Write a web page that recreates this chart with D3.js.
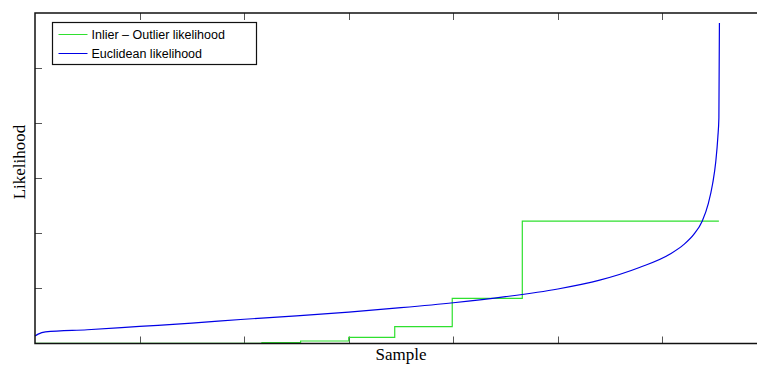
<!DOCTYPE html>
<html>
<head>
<meta charset="utf-8">
<script src="https://cdn.jsdelivr.net/npm/d3@7"></script>
<style>
  body { margin: 0; background: #fff; }
  svg { display: block; }
</style>
</head>
<body>
<svg id="chart" width="757" height="365"></svg>
<script>
// sample index (thousands) and likelihood
const euclidSample = [0, 0.03, 0.1, 0.5, 1.0, 1.5, 2.0, 2.5, 3.0, 3.5, 4.0, 4.5, 5.0, 5.4, 5.78, 6.07, 6.2, 6.3, 6.38, 6.44, 6.48, 6.51, 6.53, 6.54, 6.545]
const euclidValue = [0.136, 0.17, 0.21, 0.25, 0.31, 0.37, 0.44, 0.50, 0.57, 0.65, 0.74, 0.85, 0.99, 1.15, 1.38, 1.62, 1.79, 1.98, 2.22, 2.55, 2.9, 3.3, 3.75, 4.1, 5.82]

const inlierSample = [0, 2.17, 2.54, 3.0, 3.44, 3.99, 4.66, 6.54]
const inlierValue = [0.003, 0.015, 0.045, 0.11, 0.305, 0.82, 2.22, 2.22]

const xTicks = [1, 2, 3, 4, 5, 6]
const yTicks = [1, 2, 3, 4, 5]

const legendLabels = ['Inlier \u2013 Outlier likelihood', 'Euclidean likelihood']
const seriesColors = ['#2fe02f', '#0000e6']

const svg = d3.select('#chart')
const plot = { left: 35, right: 767, top: 13, bottom: 343.5 }

const x = d3.scaleLinear().domain([0, 7]).range([plot.left, plot.right])
const y = d3.scaleLinear().domain([0, 6]).range([plot.bottom, plot.top])

/**
 * Draws the inward tick marks on the bottom, top and left sides of the box.
 */
function drawTicks () {
  const tickLen = 7
  const g = svg.append('g').attr('stroke', '#555').attr('stroke-width', 1)
  xTicks.forEach((t) => {
    const px = Math.round(x(t)) + 0.5
    g.append('line').attr('x1', px).attr('x2', px)
      .attr('y1', plot.bottom).attr('y2', plot.bottom - tickLen)
    g.append('line').attr('x1', px).attr('x2', px)
      .attr('y1', plot.top).attr('y2', plot.top + tickLen)
  })
  yTicks.forEach((t) => {
    const py = Math.round(y(t)) + 0.5
    g.append('line').attr('x1', plot.left).attr('x2', plot.left + tickLen)
      .attr('y1', py).attr('y2', py)
  })
}

drawTicks()

const euclidPoints = euclidSample.map((s, i) => [s, euclidValue[i]])
const inlierPoints = inlierSample.map((s, i) => [s, inlierValue[i]])

svg.append('path')
  .datum(inlierPoints)
  .attr('fill', 'none')
  .attr('stroke', seriesColors[0])
  .attr('stroke-width', 1.2)
  .attr('d', d3.line().x(d => x(d[0])).y(d => y(d[1])).curve(d3.curveStepAfter))

svg.append('path')
  .datum(euclidPoints)
  .attr('fill', 'none')
  .attr('stroke', seriesColors[1])
  .attr('stroke-width', 1.2)
  .attr('d', d3.line().x(d => x(d[0])).y(d => y(d[1])).curve(d3.curveMonotoneX))

// box
svg.append('rect')
  .attr('x', plot.left).attr('y', plot.top)
  .attr('width', plot.right - plot.left).attr('height', plot.bottom - plot.top)
  .attr('fill', 'none')
  .attr('stroke', '#111')
  .attr('stroke-width', 1.5)

// legend
const legend = svg.append('g').attr('transform', 'translate(52.5,22.5)')
legend.append('rect')
  .attr('width', 204).attr('height', 42)
  .attr('fill', '#fff').attr('stroke', '#111').attr('stroke-width', 1.2)
legendLabels.forEach((label, i) => {
  const ly = 12 + i * 19
  legend.append('line')
    .attr('x1', 6).attr('x2', 35).attr('y1', ly).attr('y2', ly)
    .attr('stroke', seriesColors[i]).attr('stroke-width', 1)
  legend.append('text')
    .attr('x', 39).attr('y', ly + 4.5)
    .attr('font-family', 'Liberation Sans, Arial, sans-serif')
    .attr('font-size', '12.5px')
    .attr('fill', '#000')
    .text(label)
})

// axis labels
svg.append('text')
  .attr('x', (plot.left + plot.right) / 2)
  .attr('y', 360)
  .attr('text-anchor', 'middle')
  .attr('font-family', 'Liberation Serif, serif')
  .attr('font-size', '17px')
  .text('Sample')

svg.append('text')
  .attr('transform', 'translate(25,162) rotate(-90)')
  .attr('text-anchor', 'middle')
  .attr('font-family', 'Liberation Serif, serif')
  .attr('font-size', '17px')
  .text('Likelihood')
</script>
</body>
</html>
